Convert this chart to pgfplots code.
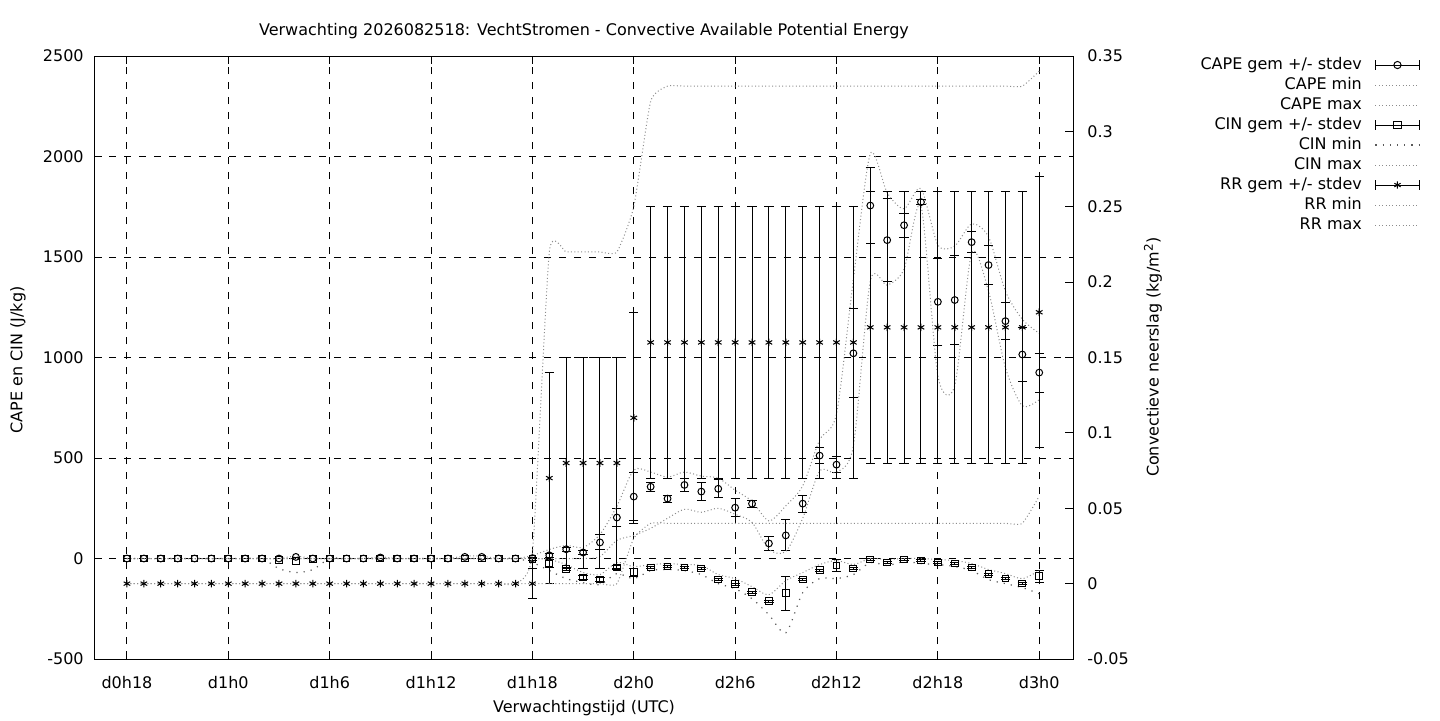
\documentclass[border=0pt]{standalone}
\usepackage{fontspec}
\setmainfont{DejaVu Sans}
\usepackage{pgfplots}
\usepackage{pgfplotstable}
\pgfplotsset{compat=1.18}

\tikzset{
  dens/.style={black!45, line width=0.5pt, dash pattern=on 0.5pt off 1.2pt},
  spars/.style={black!65, line width=0.6pt, dash pattern=on 0.6pt off 3pt},
}
\pgfplotsset{
  errleg/.style={legend image code/.code={%
    \draw[black,line width=0.5pt] (0pt,0pt) -- (22pt,0pt);
    \draw[black,line width=0.5pt] (0pt,-2.3pt) -- (0pt,2.3pt);
    \draw[black,line width=0.5pt] (22pt,-2.3pt) -- (22pt,2.3pt);
    \draw[black,line width=0.5pt,mark=#1,mark size=1.8pt,mark options={solid,fill=white}] plot coordinates {(11pt,0pt)};
  }},
  errbars/.style={error bars/.cd, y dir=both, y explicit,
    error bar style={line width=0.5pt,black,solid},
    error mark options={rotate=90,black,mark size=2.3pt,line width=0.5pt}},
}

\pgfplotstableread{
h cape cs cmin cmax
18 0 0 0 0
19 0 0 0 0
20 0 0 0 0
21 0 0 0 0
22 0 0 0 0
23 0 0 0 0
24 0 0 0 0
25 0 0 0 0
26 0 0 0 0
27 0 0 0 0
28 8 4 0 12
29 0 0 0 0
30 0 0 0 0
31 0 0 0 0
32 0 0 0 0
33 5 3 0 8
34 0 0 0 0
35 0 0 0 0
36 0 0 0 0
37 0 0 0 0
38 8 4 0 12
39 8 4 0 12
40 0 0 0 0
41 0 0 0 0
42 2 2 0 15
43 16 10 0 45
44 46 10 0 65
45 30 10 0 55
46 80 37 10 120
47 204 43 90 260
48 308 120 115 440
49 357 23 150 430
50 298 17 200 405
51 366 33 245 430
52 333 44 230 410
53 347 45 250 400
54 253 45 220 340
55 273 17 180 285
56 75 35 45 187
57 115 77 35 262
58 273 42 200 361
59 512 40 435 590
60 467 40 430 720
61 1021 221 560 1390
62 1756 188 1380 2013
63 1584 208 1360 1820
64 1658 59 1440 1740
65 1773 13 1755 1840
66 1277 215 910 1560
67 1286 222 860 1555
68 1574 52 1520 1665
69 1460 97 1330 1600
70 1181 91 950 1330
71 1015 134 760 1190
72 925 97 790 1120
}\capetab

\pgfplotstableread{
h cin cis nmin nmax
18 0 0 0 0
19 0 0 0 0
20 0 0 0 0
21 0 0 0 0
22 0 0 0 0
23 0 0 0 0
24 0 0 0 0
25 0 0 0 0
26 0 0 0 0
27 -7 3 -50 0
28 -12 4 -70 0
29 -3 2 -55 0
30 0 0 0 0
31 0 0 0 0
32 0 0 0 0
33 0 0 0 0
34 0 0 0 0
35 0 0 0 0
36 0 0 0 0
37 0 0 0 0
38 0 0 0 0
39 0 0 0 0
40 0 0 0 0
41 0 0 0 0
42 -3 5 -20 0
43 -25 18 -60 -5
44 -54 8 -100 -30
45 -94 8 -120 -70
46 -104 8 -130 -80
47 -45 10 -75 -20
48 -68 20 -100 -40
49 -45 5 -60 -30
50 -40 5 -55 -25
51 -45 5 -60 -30
52 -50 5 -80 -35
53 -104 5 -125 -80
54 -128 5 -150 -100
55 -168 5 -200 -140
56 -212 5 -280 -180
57 -173 84 -370 -110
58 -104 5 -170 -70
59 -59 5 -100 -30
60 -35 30 -100 -10
61 -50 5 -80 -30
62 -5 5 -20 0
63 -20 5 -35 -5
64 -5 5 -15 0
65 -10 5 -25 0
66 -20 5 -30 -5
67 -25 5 -40 -10
68 -45 5 -60 -25
69 -79 5 -105 -55
70 -99 5 -125 -75
71 -124 5 -145 -100
72 -89 31 -175 -60
}\cintab

\pgfplotstableread{
h rr rs rmin rmax
18 0 0 0 0
19 0 0 0 0
20 0 0 0 0
21 0 0 0 0
22 0 0 0 0
23 0 0 0 0
24 0 0 0 0
25 0 0 0 0
26 0 0 0 0
27 0 0 0 0
28 0 0 0 0
29 0 0 0 0
30 0 0 0 0
31 0 0 0 0
32 0 0 0 0
33 0 0 0 0
34 0 0 0 0
35 0 0 0 0
36 0 0 0 0
37 0 0 0 0
38 0 0 0 0
39 0 0 0 0
40 0 0 0 0
41 0 0 0 0
42 0 0.01 0 0.02
43 0.07 0.07 0 0.22
44 0.08 0.07 0 0.22
45 0.08 0.07 0 0.22
46 0.08 0.07 0 0.22
47 0.08 0.07 0 0.22
48 0.11 0.07 0.03 0.25
49 0.16 0.09 0.04 0.32
50 0.16 0.09 0.04 0.33
51 0.16 0.09 0.04 0.33
52 0.16 0.09 0.04 0.33
53 0.16 0.09 0.04 0.33
54 0.16 0.09 0.04 0.33
55 0.16 0.09 0.04 0.33
56 0.16 0.09 0.04 0.33
57 0.16 0.09 0.04 0.33
58 0.16 0.09 0.04 0.33
59 0.16 0.09 0.04 0.33
60 0.16 0.09 0.04 0.33
61 0.16 0.09 0.04 0.33
62 0.17 0.09 0.04 0.33
63 0.17 0.09 0.04 0.33
64 0.17 0.09 0.04 0.33
65 0.17 0.09 0.04 0.33
66 0.17 0.09 0.04 0.33
67 0.17 0.09 0.04 0.33
68 0.17 0.09 0.04 0.33
69 0.17 0.09 0.04 0.33
70 0.17 0.09 0.04 0.33
71 0.17 0.09 0.04 0.33
72 0.18 0.09 0.058 0.34
}\rrtab

\begin{document}
\fontsize{8}{10}\selectfont
\begin{tikzpicture}
\useasboundingbox (0,0) rectangle (720pt,360pt);
\begin{axis}[
  at={(47pt,30.5pt)}, anchor=south west,
  scale only axis, width=489.5pt, height=301.5pt,
  xmin=16.05, xmax=74, ymin=-500, ymax=2500,
  xtick={18,24,...,72},
  xticklabels={d0h18,d1h0,d1h6,d1h12,d1h18,d2h0,d2h6,d2h12,d2h18,d3h0},
  ytick={-500,0,500,1000,1500,2000,2500},
  yticklabels={-500,0,500,1000,1500,2000,2500},
  ytick pos=left, xtick pos=both,
  tick align=inside, major tick length=4pt,
  every tick/.style={black,line width=0.5pt},
  axis line style={black,line width=0.5pt},
  grid=major,
  major grid style={black,line width=0.5pt,dash pattern=on 3.5pt off 4pt},
  xticklabel style={yshift=-6pt},
  yticklabel style={xshift=-2.3pt},
]
% CAPE
\addplot[black,line width=0.5pt,only marks,mark=o,mark size=1.7pt,restrict x to domain=41.5:73,errbars]
  table[x=h,y=cape,y error=cs]{\capetab};
\addplot[black,line width=0.5pt,only marks,mark=o,mark size=1.7pt,restrict x to domain=17:41.5]
  table[x=h,y=cape]{\capetab};
\addplot[dens,smooth,tension=0.45] table[x=h,y=cmin]{\capetab};
\addplot[dens,smooth,tension=0.45] table[x=h,y=cmax]{\capetab};
% CIN
\addplot[black,line width=0.5pt,only marks,mark=square,mark size=1.7pt,restrict x to domain=41.5:73,errbars]
  table[x=h,y=cin,y error=cis]{\cintab};
\addplot[black,line width=0.5pt,only marks,mark=square,mark size=1.7pt,restrict x to domain=17:41.5]
  table[x=h,y=cin]{\cintab};
\addplot[spars,smooth,tension=0.45] table[x=h,y=nmin]{\cintab};
\addplot[dens,smooth,tension=0.45] table[x=h,y=nmax]{\cintab};
\end{axis}

\begin{axis}[
  at={(47pt,30.5pt)}, anchor=south west,
  scale only axis, width=489.5pt, height=301.5pt,
  xmin=16.05, xmax=74, ymin=-0.05, ymax=0.35,
  axis x line=none, axis y line*=right,
  y axis line style={-,black,line width=0.5pt},
  ytick={-0.05,0,0.05,0.1,0.15,0.2,0.25,0.3,0.35},
  yticklabels={-0.05,0,0.05,0.1,0.15,0.2,0.25,0.3,0.35},
  tick align=inside, major tick length=4pt,
  every tick/.style={black,line width=0.5pt},
  yticklabel style={xshift=4.3pt},
  legend image code/.code={\draw[#1] (0pt,0pt) -- (22pt,0pt);},
  legend plot pos=right,
  legend cell align=right,
  legend style={at={(1.3545,0.9983)}, anchor=north east, draw=none, fill=none,
    inner sep=0pt, outer sep=0pt, row sep=2pt, /tikz/column sep=6.5pt,
    nodes={inner sep=0pt, text height=6.2pt, text depth=1.8pt}},
]
\addlegendimage{errleg=o}
\addlegendentry{CAPE gem +/- stdev}
\addlegendimage{dens}
\addlegendentry{CAPE min}
\addlegendimage{dens}
\addlegendentry{CAPE max}
\addlegendimage{errleg=square}
\addlegendentry{CIN gem +/- stdev}
\addlegendimage{spars}
\addlegendentry{CIN min}
\addlegendimage{dens}
\addlegendentry{CIN max}
% RR
\addplot[black,line width=0.5pt,only marks,mark=asterisk,mark size=1.9pt,restrict x to domain=41.5:73,errleg=asterisk,errbars]
  table[x=h,y=rr,y error=rs]{\rrtab};
\addlegendentry{RR gem +/- stdev}
\addplot[black,line width=0.5pt,only marks,mark=asterisk,mark size=1.9pt,restrict x to domain=17:41.5,forget plot]
  table[x=h,y=rr]{\rrtab};
\addplot[dens,smooth,tension=0.3] table[x=h,y=rmin]{\rrtab};
\addlegendentry{RR min}
\addplot[dens,smooth,tension=0.3] table[x=h,y=rmax]{\rrtab};
\addlegendentry{RR max}
\end{axis}

\node at (292pt,344.5pt) {Verwachting 2026082518: VechtStromen - Convective Available Potential Energy};
\node at (292pt,6pt) {Verwachtingstijd (UTC)};
\node[rotate=90] at (9pt,180pt) {CAPE en CIN (J/kg)};
\node[rotate=90] at (576.5pt,181.5pt) {Convectieve neerslag (kg/m\textsuperscript{2})};
\end{tikzpicture}
\end{document}
